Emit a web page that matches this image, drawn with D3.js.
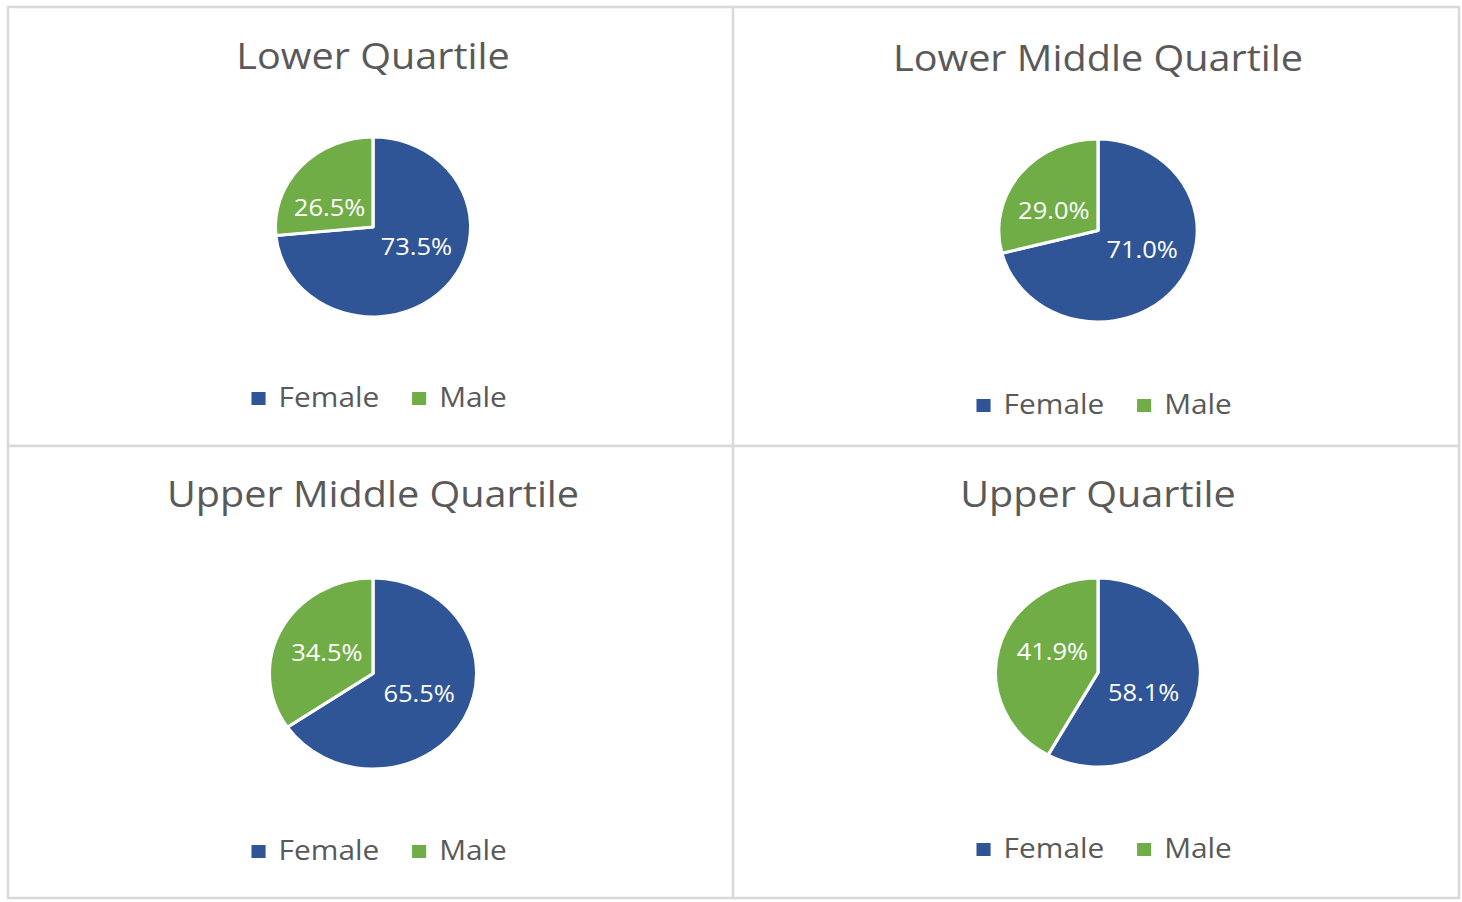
<!DOCTYPE html>
<html><head><meta charset="utf-8">
<script src="https://cdn.jsdelivr.net/npm/d3@7"></script>
<style>html,body{margin:0;padding:0;background:#fff;}svg{display:block;}</style>
</head><body>
<svg id="chart" width="1462" height="902"></svg>
<script>
const titles = ["Lower Quartile", "Lower Middle Quartile", "Upper Middle Quartile", "Upper Quartile"];
const categories = ["Female", "Male"];
const femaleValues = [73.5, 71.0, 65.5, 58.1];
const maleValues = [26.5, 29.0, 34.5, 41.9];
const colors = ["#2F5597", "#70AD47"];

const svg = d3.select("#chart");
const font = "'Open Sans', 'Noto Sans', sans-serif";
const stretch = 1.085;

// panel layout (positions relative to each panel)
const colX = [8, 733], colW = 726;
const rowY = [7, 446], rowH = [439, 452];
const layout = [
  { titleY: 62, cy: 220, R: 90, legendY: 400 },
  { titleY: 64, cy: 223.5, R: 91.5, legendY: 407 },
  { titleY: 61, cy: 227.5, R: 95.5, legendY: 414 },
  { titleY: 61, cy: 226.5, R: 94.5, legendY: 412 }
];

const color = d3.scaleOrdinal().domain(categories).range(colors);
const pie = d3.pie().sort(null).value(d => d.value);

titles.forEach((t, i) => {
  const c = i % 2, r = Math.floor(i / 2), L = layout[i];
  const x0 = colX[c], y0 = rowY[r], cx = x0 + colW / 2 + 2;
  svg.append("rect").attr("x", x0).attr("y", y0).attr("width", colW).attr("height", rowH[r])
    .attr("fill", "#fff").attr("stroke", "#d9d9d9").attr("stroke-width", 2.5);

  const g = svg.append("g").attr("transform", `translate(${cx},${y0}) scale(${stretch},1)`);
  g.append("text").attr("x", 0).attr("y", L.titleY)
    .attr("text-anchor", "middle").attr("font-family", font).attr("font-size", 36.5)
    .attr("fill", "#595959").text(t);

  const data = categories.map((k, j) => ({ key: k, value: j === 0 ? femaleValues[i] : maleValues[i] }));
  const R = L.R;
  const arc = d3.arc().innerRadius(0).outerRadius(R);
  const labelArc = d3.arc().innerRadius(R * 0.5).outerRadius(R * 0.5);
  const pg = g.append("g").attr("transform", `translate(0,${L.cy})`);
  const arcs = pie(data);
  pg.selectAll("path").data(arcs).join("path")
    .attr("d", arc).attr("fill", d => color(d.data.key))
    .attr("stroke", "#fff").attr("stroke-width", 3).attr("stroke-linejoin", "round");
  pg.selectAll("text").data(arcs).join("text")
    .attr("transform", d => {
      const p = labelArc.centroid(d);
      return `translate(${Math.sign(p[0]) * 0.445 * R},${Math.sign(p[1]) * 0.215 * R})`;
    })
    .attr("text-anchor", "middle").attr("dy", "0.35em")
    .attr("font-family", font).attr("font-size", 23.5).attr("fill", "#fff")
    .text(d => d.data.value.toFixed(1) + "%");

  const lg = g.append("g").attr("transform", `translate(0,${L.legendY})`);
  const itemX = [-112, 36];
  categories.forEach((k, j) => {
    lg.append("rect").attr("x", itemX[j]).attr("y", -15).attr("width", 13).attr("height", 13)
      .attr("fill", color(k));
    lg.append("text").attr("x", itemX[j] + 25).attr("y", 0)
      .attr("font-family", font).attr("font-size", 27.5).attr("fill", "#595959").text(k);
  });
});
</script>
</body></html>
